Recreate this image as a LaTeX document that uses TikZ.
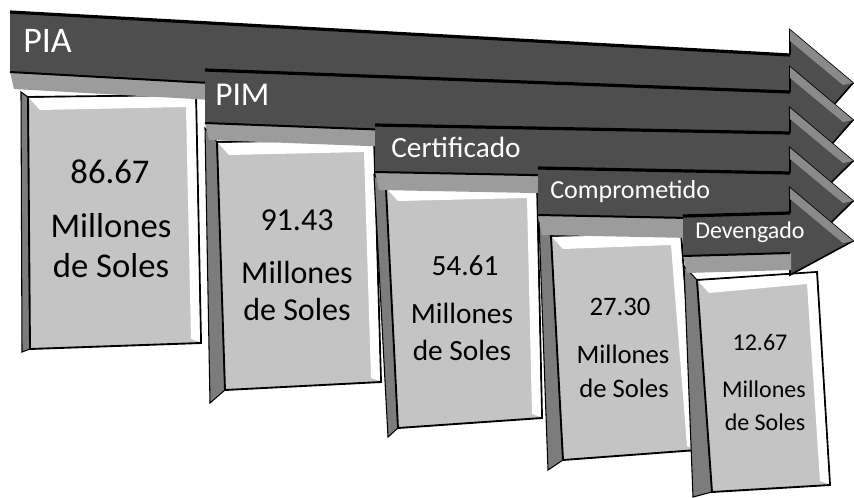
\documentclass[tikz,border=0pt]{standalone}
\usepackage{fontspec}
\setmainfont{Carlito}
\definecolor{bardark}{HTML}{4E4E4E}
\definecolor{barlight}{HTML}{9C9C9C}
\definecolor{headside}{HTML}{8A8A8A}
\definecolor{boxfill}{HTML}{C4C4C4}
\definecolor{boxside}{HTML}{7C7C7C}
\tikzset{
  barbody/.style={fill=bardark},
  barface/.style={fill=barlight},
  barhead/.style={fill=bardark, draw=black, line width=1.2pt, line join=miter},
  topshadow/.style={draw=black, line width=2.4pt},
  boxfront/.style={fill=boxfill, draw=black, line width=1.4pt},
  boxsideface/.style={fill=boxside, draw=black, line width=0.8pt},
  bevel/.style={fill=white},
  barlabel/.style={text=white, anchor=base west, inner sep=0pt},
  boxtext/.style={text=black, anchor=base, inner sep=0pt}
}
\begin{document}
\begin{tikzpicture}[x=0.75pt, y=-0.75pt]
\useasboundingbox (0,0) rectangle (854,497);
\fill[white] (0,0) rectangle (854,497);
% boxes: front TL, TR, BR, BL ; side face top-left, bottom-left
\foreach \ax/\ay/\bx/\by/\cx/\cy/\dx/\dy/\sx/\sy/\tx/\ty in {
  28/97/196/95/201/343/30/349/21/92/22/352,
  217/142/374/140/381/382/225/390/205/128/210/403,
  386/188/537/186/542/418/398/428/374/175/388/437,
  551/236/681/233/697/450/563/460/539/222/548/470,
  697/280/817/272/830/485/712/492/684/266/693/497}{
  \path[boxsideface] (\sx,\sy) -- (\ax,\ay) -- (\dx,\dy) -- (\tx,\ty) -- cycle;
  \path[boxfront] (\ax,\ay) -- (\bx,\by) -- (\cx,\cy) -- (\dx,\dy) -- cycle;
  \path[bevel] (\ax+1,\ay+1) -- (\bx-1,\by+1) -- (\bx-10,\by+12) -- (\ax+12,\ay+13) -- cycle;
  \path[bevel] (\bx-1,\by+1) -- (\cx-1,\cy-1) -- (\cx-10,\cy-4) -- (\bx-10,\by+12) -- cycle;
}
% bars: left x, top-left y, top-right y, dark height, light face height, head bottom offset
\foreach \L/\Tl/\Tr/\hd/\hl/\hb in {
  10/12/55/60/17/100,
  205/70/92/53/17/100,
  375/125/133/47/18/90,
  538/168/173/47/20/90,
  683/216/213/40/17/62}{
  \path[barhead] (790,\Tr-25) -- (853,\Tr+28) -- (790,\Tr+\hb) -- cycle;
  \path[fill=headside] (790,\Tr-25) -- (853,\Tr+28) -- (843,\Tr+30) -- (790,\Tr-14) -- cycle;
  \path[barbody] (\L,\Tl) -- (791,\Tr) -- (791,\Tr+\hd) -- (\L,\Tl+\hd) -- cycle;
  \path[barface] (\L,\Tl+\hd) -- (791,\Tr+\hd) -- (791,\Tr+\hd+\hl) -- (\L+4,\Tl+\hd+\hl) -- cycle;
  \draw[topshadow] (\L,\Tl) -- (790,\Tr);
  \draw[black, line width=1.5pt] (\L,\Tl+\hd) -- (790,\Tr+\hd);
}
% bar labels
\node[barlabel, font=\fontsize{27}{27}\selectfont] (lpia) at (23,52) {PIA};
\node[barlabel, font=\fontsize{25}{25}\selectfont] (lpim) at (215,105) {PIM};
\node[barlabel, font=\fontsize{22}{22}\selectfont] (lcert) at (391,157) {Certificado};
\node[barlabel, font=\fontsize{19.5}{19.5}\selectfont] (lcomp) at (550,198) {Comprometido};
\node[barlabel, font=\fontsize{18}{18}\selectfont] (ldev) at (695,238) {Devengado};
% box texts
\begin{scope}[every node/.style={boxtext}]
\node[font=\fontsize{26}{26}\selectfont] (n1) at (110,183) {86.67};
\node[font=\fontsize{26}{26}\selectfont] (m1) at (111,237) {Millones};
\node[font=\fontsize{26}{26}\selectfont] (s1) at (111,277) {de Soles};
\node[font=\fontsize{24}{24}\selectfont] (n2) at (297,230) {91.43};
\node[font=\fontsize{24}{24}\selectfont] (m2) at (297,283) {Millones};
\node[font=\fontsize{24}{24}\selectfont] (s2) at (297,320) {de Soles};
\node[font=\fontsize{22}{22}\selectfont] (n3) at (465,275) {54.61};
\node[font=\fontsize{22}{22}\selectfont] (m3) at (462,323) {Millones};
\node[font=\fontsize{22}{22}\selectfont] (s3) at (462,360) {de Soles};
\node[font=\fontsize{20}{20}\selectfont] (n4) at (620,315) {27.30};
\node[font=\fontsize{20}{20}\selectfont] (m4) at (623,363) {Millones};
\node[font=\fontsize{20}{20}\selectfont] (s4) at (624,397) {de Soles};
\node[font=\fontsize{18}{18}\selectfont] (n5) at (760,350) {12.67};
\node[font=\fontsize{18}{18}\selectfont] (m5) at (764,397) {Millones};
\node[font=\fontsize{18}{18}\selectfont] (s5) at (765,430) {de Soles};
\end{scope}
\end{tikzpicture}
\end{document}
